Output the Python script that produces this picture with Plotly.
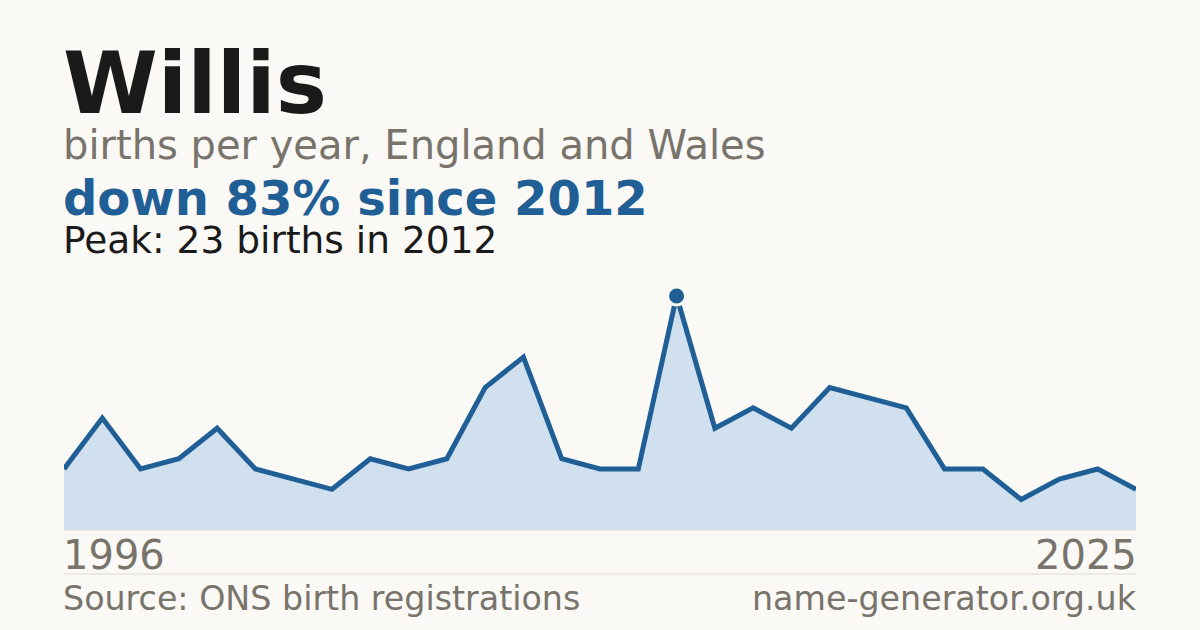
import plotly.graph_objects as go

years = list(range(1996, 2025))
births = [6, 11, 6, 7, 10, 6, 5, 4, 7, 6, 7, 14, 17, 7, 6, 6, 23, 10, 12, 10, 14, 13, 12, 6, 6, 3, 5, 6, 4]
tick_labels = ["1996", "2025"]
peak_year = 2012
peak_value = 23

title = "Willis"
subtitle = "births per year, England and Wales"
headline = "down 83% since 2012"
peak_text = "Peak: 23 births in 2012"
source = "Source: ONS birth registrations"
site = "name-generator.org.uk"

BG = "#faf9f5"
BLUE = "#1f5f96"
FILL = "#d0e0ef"
GRAY = "#78736b"
DARK = "#1a1a1a"
FONT = "DejaVu Sans"

W, H = 1200, 630
L, R, T, B = 64, 64, 280, 100
base_px = 530
peak_px = 296
ymax = peak_value * (base_px - T) / (base_px - peak_px)


def py(px):
    # pixel y -> paper y
    return (base_px - px) / (base_px - T)


fig = go.Figure()
fig.add_trace(go.Scatter(
    x=years, y=births, mode="lines",
    line=dict(color=BLUE, width=5),
    fill="tozeroy", fillcolor=FILL,
    hoverinfo="skip", cliponaxis=False,
))
fig.add_trace(go.Scatter(
    x=[peak_year], y=[peak_value], mode="markers",
    marker=dict(size=18, color=BLUE, line=dict(color=BG, width=3)),
    hoverinfo="skip", cliponaxis=False,
))

fig.update_xaxes(range=[years[0], years[-1]], visible=False, fixedrange=True)
fig.update_yaxes(range=[0, ymax], visible=False, fixedrange=True)

shapes = [
    dict(type="line", xref="paper", yref="paper", x0=0, x1=1, y0=0, y1=0,
         line=dict(color="#e4ded4", width=1)),
    dict(type="line", xref="paper", yref="paper", x0=0, x1=1, y0=py(574), y1=py(574),
         line=dict(color="#dedad2", width=1)),
]

def ann(text, x, y, size, color, bold=False, xanchor="left"):
    return dict(text=f"<b>{text}</b>" if bold else text, x=x, y=y, xref="paper", yref="paper",
                xanchor=xanchor, yanchor="middle", showarrow=False, borderpad=0,
                xshift=-2 if xanchor == "left" else 2,
                font=dict(family=FONT, size=size, color=color))

annotations = [
    ann(title, 0, py(83), 86, DARK, bold=True),
    ann(subtitle, 0, py(145), 40, GRAY),
    ann(headline, 0, py(198), 48, BLUE, bold=True),
    ann(peak_text, 0, py(240), 37.5, DARK),
    ann(tick_labels[0], 0, py(555), 40, GRAY),
    ann(tick_labels[1], 1, py(555), 40, GRAY, xanchor="right"),
    ann(source, 0, py(598), 33.3, GRAY),
    ann(site, 1, py(598), 33.3, GRAY, xanchor="right"),
]

fig.update_layout(
    width=W, height=H,
    margin=dict(l=L, r=R, t=T, b=B, pad=0),
    paper_bgcolor=BG, plot_bgcolor=BG,
    showlegend=False,
    shapes=shapes, annotations=annotations,
)

fig.write_html(
    "out.html",
    config=dict(displayModeBar=False, staticPlot=True),
    post_script=f"document.body.style.margin='0';document.body.style.background='{BG}';",
)
